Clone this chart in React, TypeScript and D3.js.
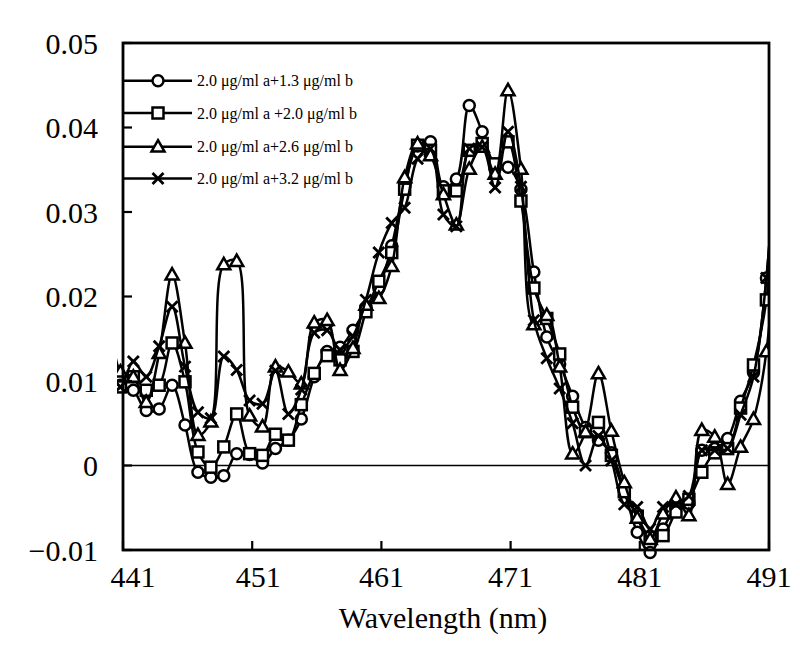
import React from "react";
import * as d3 from "d3";

const wavelengths = [
  439.8, 440.8, 441.8, 442.8, 443.8, 444.8, 445.8, 446.8, 447.8, 448.8, 449.8,
  450.8, 451.8, 452.8, 453.8, 454.8, 455.8, 456.8, 457.8, 458.8, 459.8,
  460.8, 461.8, 462.8, 463.8, 464.8, 465.8, 466.8, 467.8, 468.8, 469.8,
  470.8, 471.8, 472.8, 473.8, 474.8, 475.8, 476.8, 477.8, 478.8, 479.8,
  480.8, 481.8, 482.8, 483.8, 484.8, 485.8, 486.8, 487.8, 488.8, 489.8,
  490.8, 491.8,
];

const seriesA13 = [
  0.012, 0.0095, 0.0089, 0.0065, 0.0067, 0.0095, 0.0048, -0.0008, -0.0014, -0.0012, 0.0014,
  0.0013, 0.0003, 0.002, 0.003, 0.0055, 0.0105, 0.0135, 0.014, 0.016, 0.0185,
  0.021, 0.026, 0.033, 0.0378, 0.0383, 0.033, 0.0339, 0.0426, 0.0395, 0.0355,
  0.0353, 0.0327, 0.0229, 0.0152, 0.012, 0.0082, 0.0045, 0.003, 0.0015, -0.003,
  -0.0079, -0.0103, -0.0075, -0.005, -0.0045, 0.0018, 0.002, 0.0032, 0.0076, 0.011,
  0.0222, 0.045,
];

const seriesA20 = [
  0.012, 0.0093, 0.0105, 0.0089, 0.0095, 0.0145, 0.0099, 0.0016, -0.0002, 0.0022, 0.0061,
  0.0014, 0.0012, 0.0037, 0.003, 0.0072, 0.0109, 0.013, 0.0125, 0.0135, 0.0182,
  0.0218, 0.0252, 0.0327, 0.0379, 0.0373, 0.0325, 0.0325, 0.0373, 0.0381, 0.0357,
  0.0383, 0.0313, 0.021, 0.0174, 0.0132, 0.0069, 0.004, 0.0051, 0.0012, -0.0031,
  -0.006, -0.0085, -0.0083, -0.0055, -0.004, -0.0008, 0.0015, 0.002, 0.0068, 0.0119,
  0.0196, 0.04,
];

const seriesA26 = [
  0.025, 0.0111, 0.0105, 0.0075, 0.0133, 0.0226, 0.0145, 0.0036, 0.0052, 0.0238, 0.0242,
  0.0059, 0.0046, 0.0117, 0.0111, 0.0097, 0.0169, 0.0172, 0.0113, 0.0139, 0.019,
  0.0198, 0.0236, 0.0341, 0.0381, 0.0367, 0.0321, 0.0285, 0.0351, 0.0377, 0.0345,
  0.0444, 0.0351, 0.0167, 0.0178, 0.0117, 0.0014, 0.004, 0.0109, 0.0041, -0.002,
  -0.0062, -0.0087, -0.0057, -0.0038, -0.0059, 0.0042, 0.0034, -0.0022, 0.0022, 0.0055,
  0.0135, 0.035,
];

const seriesA32 = [
  0.014, 0.0093, 0.0123, 0.0105, 0.0141, 0.0188, 0.0117, 0.0063, 0.0056, 0.0129, 0.0113,
  0.0077, 0.0073, 0.0112, 0.0061, 0.009, 0.0157, 0.016, 0.0137, 0.0153, 0.0196,
  0.0252, 0.0287, 0.0305, 0.0363, 0.0375, 0.0297, 0.0283, 0.0375, 0.0377, 0.0329,
  0.0395, 0.033, 0.0172, 0.0127, 0.0091, 0.005, 0.0, 0.0035, 0.0006, -0.0046,
  -0.0049, -0.0075, -0.0049, -0.0046, -0.0036, 0.0018, 0.0018, 0.002, 0.006, 0.0105,
  0.0222, 0.045,
];

const seriesNames = [
  "2.0 μg/ml a+1.3 μg/ml b",
  "2.0 μg/ml a +2.0 μg/ml b",
  "2.0 μg/ml a+2.6 μg/ml b",
  "2.0 μg/ml a+3.2 μg/ml b",
];
const markerTypes = ["circle", "square", "triangle", "cross"];
const seriesValues = [seriesA13, seriesA20, seriesA26, seriesA32];

const xTicks = [441, 451, 461, 471, 481, 491];
const yTicks = [-0.01, 0, 0.01, 0.02, 0.03, 0.04, 0.05];
const yTickLabels = ["\u22120.01", "0", "0.01", "0.02", "0.03", "0.04", "0.05"];

const W = 800;
const H = 649;
const left = 123;
const right = 769;
const top = 43;
const bottom = 550;

function Marker({ type, cx, cy }: { type: string; cx: number; cy: number }) {
  const sw = 2.5;
  if (type === "circle")
    return <circle cx={cx} cy={cy} r={5.5} fill="#fff" stroke="#000" strokeWidth={sw} />;
  if (type === "square")
    return <rect x={cx - 5.5} y={cy - 5.5} width={11} height={11} fill="#fff" stroke="#000" strokeWidth={sw} />;
  if (type === "triangle") {
    const s = 6.5;
    const p = `M${cx},${cy - s} L${cx + s},${cy + s * 0.75} L${cx - s},${cy + s * 0.75} Z`;
    return <path d={p} fill="#fff" stroke="#000" strokeWidth={sw} strokeLinejoin="miter" />;
  }
  const s = 5.5;
  return (
    <path
      d={`M${cx - s},${cy - s} L${cx + s},${cy + s} M${cx - s},${cy + s} L${cx + s},${cy - s}`}
      stroke="#000"
      strokeWidth={2.8}
      fill="none"
    />
  );
}

export default function App() {
  const x = d3.scaleLinear().domain([441, 491]).range([left, right]);
  const y = d3.scaleLinear().domain([-0.01, 0.05]).range([bottom, top]);
  const line = d3
    .line<number>()
    .x((_, i) => x(wavelengths[i]))
    .y((d) => y(d))
    .curve(d3.curveCatmullRom.alpha(0.5));

  const font = "'Liberation Serif', 'Times New Roman', serif";
  const legendRows = [80.7, 113, 146.7, 178.5];

  return (
    <svg width={W} height={H} style={{ position: "absolute", left: 0, top: 0, background: "#fff" }}>
      <defs>
        <clipPath id="plotClip">
          <rect x={117} y={0} width={right - 117} height={H} />
        </clipPath>
      </defs>
      <rect x={0} y={0} width={W} height={H} fill="#fff" />
      <line x1={left} x2={right} y1={y(0)} y2={y(0)} stroke="#000" strokeWidth={1.6} />
      <g clipPath="url(#plotClip)">
        {seriesValues.map((vals, si) => (
          <g key={si}>
            <path d={line(vals) || ""} fill="none" stroke="#000" strokeWidth={2.5} />
            {vals.map((v, i) => {
              const wv = wavelengths[i];
              if (wv < 440.5 || wv > 491) return null;
              return <Marker key={i} type={markerTypes[si]} cx={x(wv)} cy={y(v)} />;
            })}
          </g>
        ))}
      </g>
      <rect x={left} y={top} width={right - left} height={bottom - top} fill="none" stroke="#000" strokeWidth={2.8} />
      {yTicks.map((t, i) => (
        <g key={t}>
          <line x1={left} x2={left + 9} y1={y(t)} y2={y(t)} stroke="#000" strokeWidth={2.2} />
          <text x={98} y={y(t)} dy="0.35em" textAnchor="end" fontFamily={font} fontSize={30} fill="#000">
            {yTickLabels[i]}
          </text>
        </g>
      ))}
      {xTicks.map((t, i) => (
        <g key={t}>
          <line x1={x(t)} x2={x(t)} y1={bottom} y2={bottom - 9} stroke="#000" strokeWidth={2.2} />
          <text
            x={x(t) + (i === 0 ? 10 : i === 1 ? 6 : 0)}
            y={587}
            textAnchor="middle"
            fontFamily={font}
            fontSize={30}
            fill="#000"
          >
            {t}
          </text>
        </g>
      ))}
      <text x={443} y={628} textAnchor="middle" fontFamily={font} fontSize={30} fill="#000">
        Wavelength (nm)
      </text>
      {seriesNames.map((name, i) => (
        <g key={name}>
          <line x1={left} x2={192} y1={legendRows[i]} y2={legendRows[i]} stroke="#000" strokeWidth={2.5} />
          <Marker type={markerTypes[i]} cx={158} cy={legendRows[i]} />
          <text x={197} y={legendRows[i]} dy="0.35em" fontFamily={font} fontSize={16} fill="#000">
            {name}
          </text>
        </g>
      ))}
    </svg>
  );
}
